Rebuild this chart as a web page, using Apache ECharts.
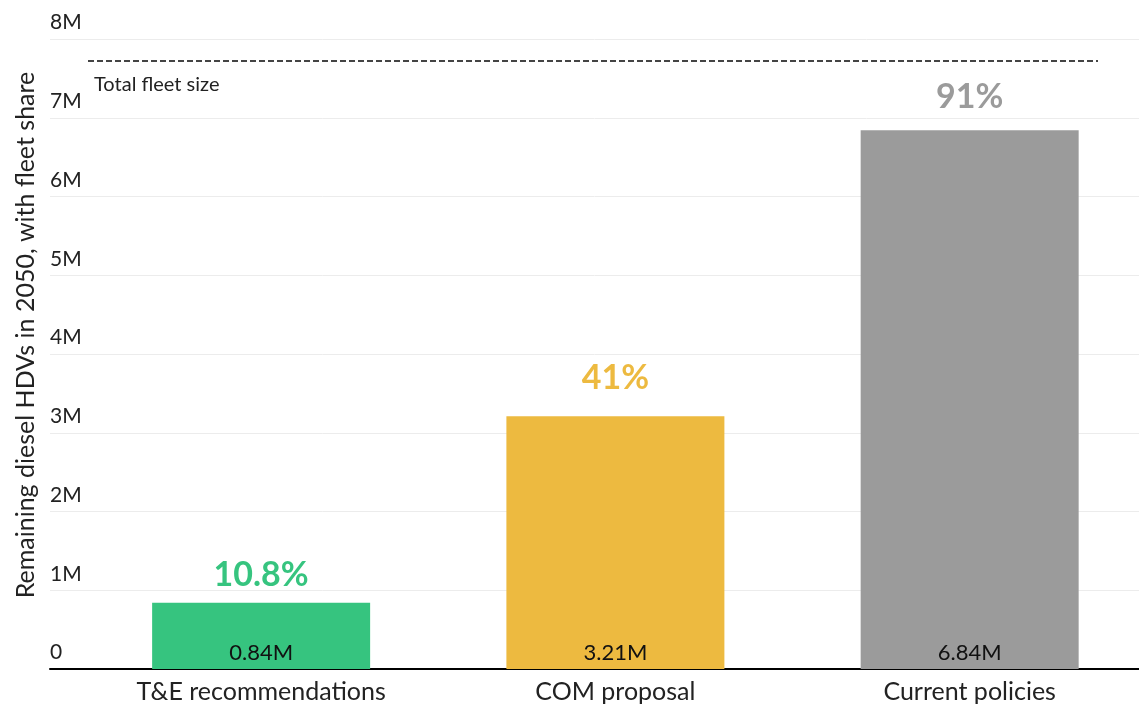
<!DOCTYPE html>
<html><head><meta charset="utf-8">
<script src="https://cdn.jsdelivr.net/npm/echarts@6/dist/echarts.min.js"></script>
<style>html,body{margin:0;padding:0;background:#fff}#c{width:1139px;height:708px}</style>
</head><body><div id="c"></div>
<script>
const categories = ["T&E recommendations", "COM proposal", "Current policies"];
const dieselValues = [0.84, 3.21, 6.84];
const fleetShare = ["10.8%", "41%", "91%"];
const valueLabels = ["0.84M", "3.21M", "6.84M"];
const barColors = ["#36C47F", "#EDBA40", "#9B9B9B"];
const totalFleet = 7.72;
const yTicks = [0, 1, 2, 3, 4, 5, 6, 7, 8];

const FONT = "Lato, 'Noto Sans', sans-serif";
const chart = echarts.init(document.getElementById('c'));
const shareDist = [11, 21, 16];
chart.setOption({
  animation: false,
  grid: [
    {left: 50, right: 0, top: 39, bottom: 39},
    {left: 84, right: 0, top: 39, bottom: 39}
  ],
  xAxis: [
    {gridIndex: 0, type: 'value', min: 0, max: 1, show: true,
     axisLine: {show: true, onZero: false, lineStyle: {color: '#000', width: 2}},
     axisTick: {show: false}, axisLabel: {show: false}, splitLine: {show: false}},
    {gridIndex: 1, type: 'value', min: -0.5, max: 2.478, interval: 0.5,
     axisLine: {show: false}, axisTick: {show: false}, splitLine: {show: false},
     axisLabel: {fontFamily: FONT, fontSize: 25, color: '#222', margin: 10,
       showMinLabel: false, showMaxLabel: false,
       formatter: v => Number.isInteger(v) ? (categories[v] || '') : ''}}
  ],
  yAxis: [
    {gridIndex: 0, type: 'value', min: 0, max: 8, interval: 1,
     name: 'Remaining diesel HDVs in 2050, with fleet share',
     nameLocation: 'middle', nameGap: 12,
     nameTextStyle: {fontFamily: FONT, fontSize: 25, color: '#222', padding: [0, 0, 0, 38]},
     axisLine: {show: false}, axisTick: {show: false},
     axisLabel: {fontFamily: FONT, fontSize: 21, color: '#222', align: 'left',
       verticalAlign: 'bottom', margin: 0, padding: [0, 0, 6, 0],
       formatter: v => v === 0 ? '0' : v + 'M'},
     splitLine: {lineStyle: {color: '#ececec', width: 1}}},
    {gridIndex: 1, type: 'value', min: 0, max: 8, show: false, splitLine: {show: false}}
  ],
  series: [
    {type: 'bar', xAxisIndex: 1, yAxisIndex: 1, barWidth: 218,
     data: dieselValues.map((v, i) => ({
       value: [i, v],
       itemStyle: {color: barColors[i]},
       label: {show: true, position: 'insideBottom', distance: 5,
         formatter: valueLabels[i], fontFamily: FONT, fontSize: 22, color: '#111'}
     })),
     markLine: {
       symbol: 'none', silent: true,
       lineStyle: {color: '#444', type: [6, 3], width: 2},
       label: {show: false},
       data: [[{coord: [-0.5, totalFleet], x: 88}, {coord: [2.4, totalFleet], x: 1098}]]
     }
    },
    {type: 'scatter', xAxisIndex: 1, yAxisIndex: 1, symbolSize: 0,
     itemStyle: {opacity: 1},
     data: dieselValues.map((v, i) => ({
       value: [i, v],
       label: {show: true, position: 'top', distance: shareDist[i], opacity: 1,
         formatter: fleetShare[i], fontFamily: FONT, fontSize: 34, fontWeight: 'bold', color: barColors[i]}
     }))
    }
  ],
  graphic: [
    {type: 'text', left: 94, top: 75, style: {text: 'Total fleet size', font: "20px " + FONT, fill: '#222'}}
  ]
});
</script></body></html>
